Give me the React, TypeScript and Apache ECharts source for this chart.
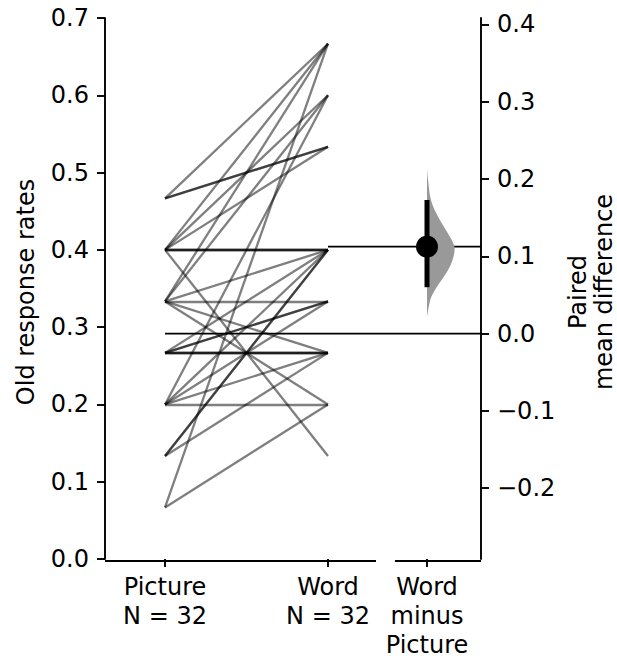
import React, { useEffect, useRef } from "react";
import * as echarts from "echarts";

// ---------------- data ----------------
const groupNames = ["Picture", "Word"];
const groupN = ["N = 32", "N = 32"];
const contrastName = "Word\nminus\nPicture";

// paired old-response rates (Picture -> Word), one entry per participant
const pictureRates = [
  0.4667, 0.4667, 0.4667,
  0.4, 0.4, 0.4, 0.4, 0.4, 0.4, 0.4,
  0.3333, 0.3333, 0.3333, 0.3333, 0.3333, 0.3333,
  0.2667, 0.2667, 0.2667, 0.2667, 0.2667, 0.2667,
  0.2, 0.2, 0.2, 0.2, 0.2,
  0.1333, 0.1333, 0.1333,
  0.0667, 0.0667,
];
const wordRates = [
  0.6667, 0.5333, 0.5333,
  0.6667, 0.6, 0.5333, 0.4, 0.4, 0.4, 0.1333,
  0.6667, 0.6, 0.4, 0.3333, 0.2667, 0.2,
  0.4, 0.3333, 0.3333, 0.2667, 0.2667, 0.2667,
  0.6, 0.4, 0.3333, 0.2667, 0.2,
  0.4, 0.4, 0.2667,
  0.6667, 0.2,
];

const leftTicks = [0, 0.1, 0.2, 0.3, 0.4, 0.5, 0.6, 0.7];
const rightTicks = [-0.2, -0.1, 0, 0.1, 0.2, 0.3, 0.4];

// bootstrap distribution of the paired mean difference
const bootDelta = [0.214, 0.198, 0.172, 0.15, 0.131, 0.111, 0.095, 0.078, 0.06, 0.047, 0.034, 0.021];
const bootDensity = [0, 0.04, 0.15, 0.42, 0.73, 1.0, 0.92, 0.69, 0.35, 0.15, 0.06, 0];
const ciBounds = [0.06, 0.173];

// ---------------- layout ----------------
const W = 617;
const H = 659;
const GRID_LEFT = 105;
const GRID_RIGHT_EDGE = 481;
const GRID_TOP = 18;
const GRID_BOTTOM_Y = 561;
const X_MIN = -0.3681;
const X_MAX = 1.9387;
const CONTRAST_X = 1.6074;
const VIOLIN_W = 0.17;
const FONT = "DejaVu Sans";
const FS = 24;

const mean = (a: number[]) => a.reduce((s, v) => s + v, 0) / a.length;

export default function App() {
  const ref = useRef<HTMLDivElement>(null);

  useEffect(() => {
    if (!ref.current) return;
    const chart = echarts.init(ref.current, undefined, { renderer: "svg" });

    const pMean = mean(pictureRates);
    const wMean = mean(wordRates);
    const diff = wMean - pMean;

    const xLabelFor = (v: number) => {
      if (Math.abs(v - 0) < 1e-6) return groupNames[0] + "\n" + groupN[0];
      if (Math.abs(v - 1) < 1e-6) return groupNames[1] + "\n" + groupN[1];
      if (Math.abs(v - CONTRAST_X) < 1e-6) return contrastName;
      return "";
    };

    const tickStyle = { color: "#000", width: 1.9 };

    const option: any = {
      animation: false,
      backgroundColor: "#ffffff",
      textStyle: { fontFamily: FONT },
      grid: {
        left: GRID_LEFT,
        top: GRID_TOP,
        width: GRID_RIGHT_EDGE - GRID_LEFT,
        height: GRID_BOTTOM_Y - GRID_TOP,
        containLabel: false,
      },
      xAxis: {
        type: "value",
        min: X_MIN,
        max: X_MAX,
        axisLine: { show: false, onZero: false },
        splitLine: { show: false },
        axisTick: {
          show: true,
          customValues: [0, 1, CONTRAST_X],
          length: 8,
          lineStyle: tickStyle,
        },
        axisLabel: {
          customValues: [0, 1, CONTRAST_X],
          formatter: (v: number) => xLabelFor(v),
          fontSize: FS,
          fontFamily: FONT,
          color: "#000",
          lineHeight: 29,
          margin: 13,
        },
      },
      yAxis: [
        {
          type: "value",
          position: "left",
          min: 0,
          max: 0.7,
          axisLine: { show: true, onZero: false, lineStyle: { color: "#000", width: 1.9 } },
          splitLine: { show: false },
          axisTick: {
            show: true,
            customValues: leftTicks,
            length: 8,
            lineStyle: tickStyle,
          },
          axisLabel: {
            customValues: leftTicks,
            formatter: (v: number) => v.toFixed(1),
            fontSize: FS,
            fontFamily: FONT,
            color: "#000",
            margin: 16,
          },
        },
        {
          type: "value",
          position: "right",
          min: -pMean,
          max: 0.7 - pMean,
          axisLine: { show: true, onZero: false, lineStyle: { color: "#000", width: 1.9 } },
          splitLine: { show: false },
          axisTick: {
            show: true,
            customValues: rightTicks,
            length: 8,
            lineStyle: tickStyle,
          },
          axisLabel: {
            customValues: rightTicks,
            formatter: (v: number) =>
              (v < -1e-9 ? "\u2212" : "") + Math.abs(v).toFixed(1),
            fontSize: FS,
            fontFamily: FONT,
            color: "#000",
            margin: 16,
          },
        },
      ],
      series: [
        {
          type: "lines",
          coordinateSystem: "cartesian2d",
          xAxisIndex: 0,
          yAxisIndex: 0,
          silent: true,
          lineStyle: { color: "#000", opacity: 0.5, width: 2.3 },
          data: pictureRates.map((p, i) => ({
            coords: [
              [0, p],
              [1, wordRates[i]],
            ],
          })),
          z: 2,
        },
        {
          type: "line",
          xAxisIndex: 0,
          yAxisIndex: 0,
          symbol: "none",
          silent: true,
          lineStyle: { color: "#000", width: 1.6 },
          data: [
            [0, pMean],
            [X_MAX, pMean],
          ],
          z: 3,
        },
        {
          type: "line",
          xAxisIndex: 0,
          yAxisIndex: 0,
          symbol: "none",
          silent: true,
          lineStyle: { color: "#000", width: 1.6 },
          data: [
            [1, wMean],
            [X_MAX, wMean],
          ],
          z: 3,
        },
        {
          type: "custom",
          xAxisIndex: 0,
          yAxisIndex: 1,
          silent: true,
          data: [0],
          renderItem: (_params: any, api: any) => {
            const pts: number[][] = bootDelta.map((d, i) =>
              api.coord([CONTRAST_X + bootDensity[i] * VIOLIN_W, d])
            );
            return {
              type: "polygon",
              shape: {
                points: pts,
                smooth: 0.35,
                smoothConstraint: [pts[0], pts[0]],
              },
              style: { fill: "#999999", stroke: "none" },
            };
          },
          z: 4,
        },
        {
          type: "line",
          xAxisIndex: 0,
          yAxisIndex: 1,
          symbol: "none",
          silent: true,
          lineStyle: { color: "#000", width: 5, cap: "butt" },
          data: [
            [CONTRAST_X, ciBounds[0]],
            [CONTRAST_X, ciBounds[1]],
          ],
          z: 5,
        },
        {
          type: "scatter",
          xAxisIndex: 0,
          yAxisIndex: 1,
          silent: true,
          symbol: "circle",
          symbolSize: 22,
          itemStyle: { color: "#000", opacity: 1 },
          data: [[CONTRAST_X, diff]],
          z: 6,
        },
      ],
      graphic: [
        {
          type: "line",
          silent: true,
          shape: { x1: GRID_LEFT, y1: GRID_BOTTOM_Y, x2: 376, y2: GRID_BOTTOM_Y },
          style: { stroke: "#000", lineWidth: 1.9 },
        },
        {
          type: "line",
          silent: true,
          shape: { x1: 395, y1: GRID_BOTTOM_Y, x2: GRID_RIGHT_EDGE, y2: GRID_BOTTOM_Y },
          style: { stroke: "#000", lineWidth: 1.9 },
        },
        {
          type: "text",
          silent: true,
          x: 26,
          y: 292,
          rotation: Math.PI / 2,
          style: {
            text: "Old response rates",
            fontSize: FS,
            fontFamily: FONT,
            fill: "#000",
            align: "center",
            verticalAlign: "middle",
          },
        },
        {
          type: "text",
          silent: true,
          x: 591,
          y: 292,
          rotation: Math.PI / 2,
          style: {
            text: "Paired\nmean difference",
            fontSize: FS,
            fontFamily: FONT,
            fill: "#000",
            align: "center",
            verticalAlign: "middle",
            lineHeight: 26,
          },
        },
      ],
    };

    chart.setOption(option);
    return () => chart.dispose();
  }, []);

  return (
    <div
      ref={ref}
      style={{ position: "fixed", left: 0, top: 0, width: W, height: H, background: "#fff" }}
    />
  );
}
